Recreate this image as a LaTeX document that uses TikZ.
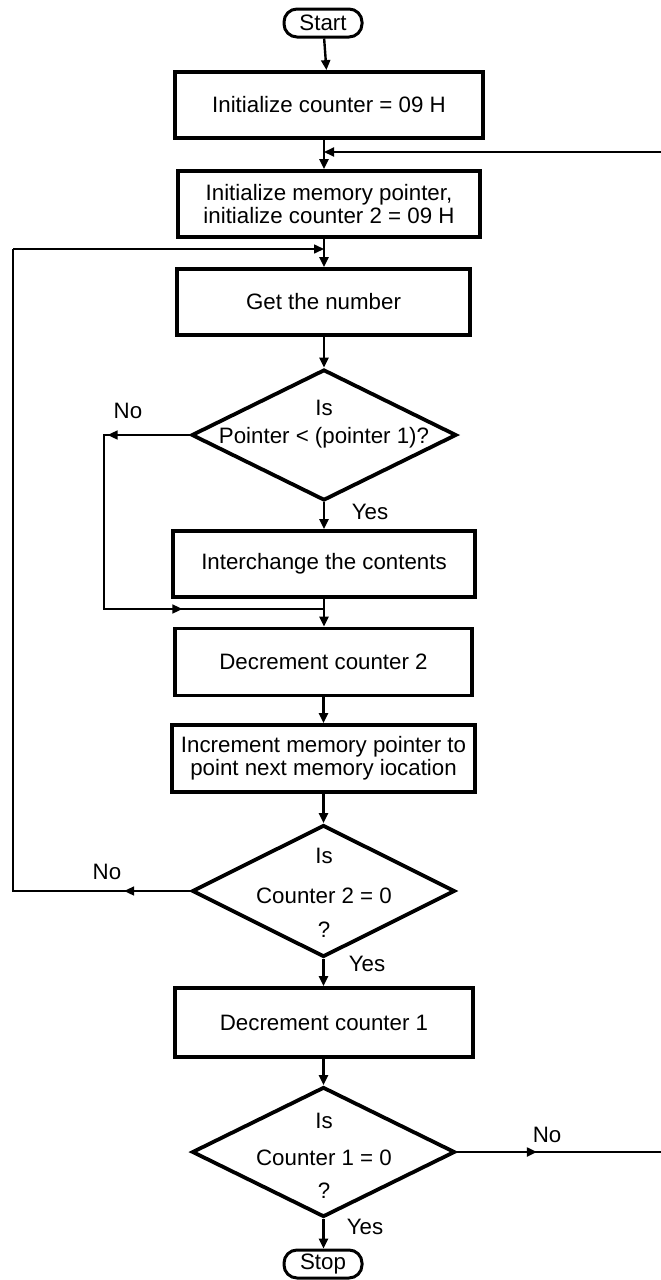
\documentclass[tikz,border=0pt]{standalone}
\usepackage{fontspec}
\setmainfont{Liberation Sans}
\usetikzlibrary{arrows.meta,shapes.geometric,decorations.markings}
\begin{document}
\begin{tikzpicture}[x=1pt,y=-1pt,
  >={Triangle[length=10pt,width=9pt]},
  every node/.style={font=\fontsize{22.3}{26}\selectfont},
  txt/.style={inner sep=0pt,text height=15pt,text depth=4pt},
  stepbox/.style={draw,line width=3.8pt,inner sep=2pt,align=center,
    minimum width=#1,minimum height=66pt},
  stepbox/.default=298pt,
  term/.style={draw,line width=3pt,rounded corners=13pt,minimum width=78pt,
    minimum height=28pt,inner sep=0pt},
  decision/.style={draw,diamond,line width=3.8pt,inner sep=0pt,
    minimum width=265pt,minimum height=131pt},
  flow/.style={line width=2.4pt,->},
  loop/.style={line width=1.6pt,postaction={decorate}}
]
\useasboundingbox (0,0) rectangle (661,1280);

% terminals, process boxes and decisions
\node[term] (start) at (323,23) {Start};
\node[stepbox=308pt] (init1) at (329,105) {Initialize counter = 09 H};
\node[stepbox=302pt] (init2) at (329,204) {Initialize memory pointer,\\[-3pt]initialize counter 2 = 09 H};
\node[stepbox=293pt] (get) at (323.5,302) {Get the number};
\node[decision] (d1) at (324,435) {};
\node[txt] (d1a) at (324,410) {Is};
\node[txt] (d1b) at (324,438) {Pointer < (pointer 1)?};
\node[stepbox=302pt] (swap) at (324,564) {Interchange the contents};
\node[stepbox=297pt,minimum height=67pt] (dec2) at (323.5,662) {Decrement counter 2};
\node[stepbox=303pt,minimum height=67pt] (incr) at (323.5,758.5) {Increment memory pointer to\\[-3pt]point next memory iocation};
\node[decision,minimum width=263pt,minimum height=132pt] (d2) at (323.5,891) {};
\node[txt] (d2a) at (324,858) {Is};
\node[txt] (d2b) at (324,898) {Counter 2 = 0};
\node[txt] (d2c) at (324,932) {?};
\node[stepbox=298pt,minimum height=69pt] (dec1) at (324,1022.5) {Decrement counter 1};
\node[decision,minimum width=263pt,minimum height=130pt] (d3) at (323.5,1152) {};
\node[txt] (d3a) at (324,1123) {Is};
\node[txt] (d3b) at (324,1160) {Counter 1 = 0};
\node[txt] (d3c) at (324,1193) {?};
\node[term] (stop) at (323,1264) {Stop};

% branch labels
\node[txt] (no1) at (128,413) {No};
\node[txt] (yes1) at (370,514) {Yes};
\node[txt] (no2) at (107,874) {No};
\node[txt] (yes2) at (367,966) {Yes};
\node[txt] (no3) at (547,1137) {No};
\node[txt] (yes3) at (365,1229) {Yes};

% junction points on the main line
\coordinate (j1) at (324,152);
\coordinate (j2) at (324,249);
\coordinate (j3) at (324,609);
\coordinate (c2) at (13,249);
\coordinate (outR) at (661,1152);
\coordinate (inR) at (661,152);

% main flow
\draw[flow] (start) -- (init1);
\draw[flow] (init1.south -| j1) -- (init2.north -| j1);
\draw[flow] (init2.south -| j2) -- (get.north -| j2);
\draw[flow] (get.south -| d1.north) -- (d1.north);
\draw[flow] (d1.south) -- (swap.north -| d1.south);
\draw[flow] (swap.south -| j3) -- (dec2.north -| j3);
\draw[flow] (dec2) -- (incr);
\draw[flow] (incr.south -| d2.north) -- (d2.north);
\draw[flow] (d2.south) -- (dec1.north -| d2.south);
\draw[flow] (dec1.south -| d3.north) -- (d3.north);
\draw[flow] (d3.south) -- (stop.north -| d3.south);

% return paths
\draw[line width=2pt,->] (inR) -- (j1);
\draw[loop,decoration={markings,
    mark=at position 82pt with {\arrow{>}},
    mark=at position 338pt with {\arrow{>}}}]
  (d1.west) -- (104,435) -- (104,609) -- (j3);
\draw[loop,decoration={markings,mark=at position 66pt with {\arrow{>}}}]
  (d2.west) -- (13,891) -- (c2);
\draw[line width=1.6pt,->] (c2) -- (j2);
\draw[line width=2pt,postaction={decorate},
  decoration={markings,mark=at position 80pt with {\arrow{>}}}]
  (d3.east) -- (outR);
\end{tikzpicture}
\end{document}
